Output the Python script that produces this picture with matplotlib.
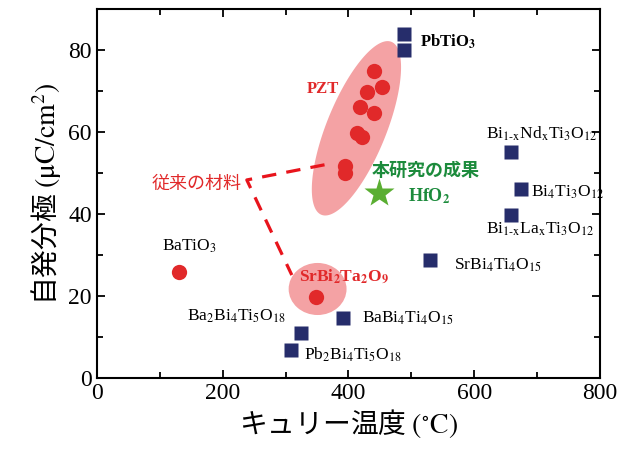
import matplotlib
matplotlib.use('Agg')
import matplotlib.pyplot as plt
from matplotlib.patches import Ellipse, Polygon
import numpy as np

plt.rcParams['font.family'] = ['Liberation Serif', 'DejaVu Serif']
plt.rcParams['mathtext.fontset'] = 'stix'

# PZT (red circles)
pzt_tc = [440, 454, 429, 419, 440, 413, 421, 394, 395]
pzt_ps = [74.9, 71.0, 69.8, 66.0, 64.6, 59.8, 58.8, 51.7, 50.0]

# other red circles
red_names = ['BaTiO3', 'SrBi2Ta2O9']
red_tc = [130, 349]
red_ps = [25.9, 19.8]

# navy squares
sq_names = ['PbTiO3', 'PbTiO3', 'BiNd', 'Bi4Ti3O12', 'BiLa', 'SrBi4Ti4O15',
            'BaBi4Ti4O15', 'Ba2Bi4Ti5O18', 'Pb2Bi4Ti5O18']
sq_tc = [489, 489, 659, 675, 659, 529, 392, 324, 309]
sq_ps = [84.0, 80.0, 55.0, 46.0, 39.8, 28.8, 14.6, 11.0, 6.8]

# HfO2 (this work)
hf_tc = [449]
hf_ps = [45.2]

red = '#e1292a'
pink = '#f4a2a4'
navy = '#262d6b'
green_star = '#5aae32'
green_txt = '#1c8b3c'

fig = plt.figure(figsize=(6.2, 4.51), dpi=100)
ax = fig.add_axes([0.156, 0.162, 0.812, 0.818])

# PZT ellipse (tilted) built from centre and two semi-axis vectors
t = np.linspace(0, 2 * np.pi, 200)
c = np.array([412.7, 60.9])
va = np.array([55.6, 21.1])
vb = np.array([44.0, -2.7])
pts = c + np.outer(np.cos(t), va) + np.outer(np.sin(t), vb)
ax.add_patch(Polygon(pts, closed=True, facecolor=pink, edgecolor='none', zorder=1))
# SrBi2Ta2O9 circle
ax.add_patch(Ellipse((351, 21.7), 92, 12.7, facecolor=pink, edgecolor='none', zorder=1))

# dashed pointer lines
ax.plot([362, 238.5, 310], [52, 48.3, 25.1], color='#e8141c', lw=2.3,
        dashes=(4.5, 3.2), solid_capstyle='butt', zorder=2)

ax.plot(pzt_tc, pzt_ps, 'o', color=red, ms=11, mec='none', zorder=3)
ax.plot(red_tc, red_ps, 'o', color=red, ms=11, mec='none', zorder=3)
ax.plot(sq_tc, sq_ps, 's', color=navy, ms=9.5, mec='none', zorder=3)
ax.plot(hf_tc, hf_ps, '*', color=green_star, ms=22, mec='none', zorder=3)

fs = 12.5
ax.text(333, 70.5, 'PZT', color=red, fontsize=12, fontweight='bold', va='center')
ax.text(159, 47.4, '従来の材料', color=red, fontsize=13, family='Noto Sans CJK JP',
        ha='center', va='center')
ax.text(437, 50.6, '本研究の成果', color=green_txt, fontsize=13, family='Noto Sans CJK JP',
        fontweight='bold', va='center')
ax.text(494, 44.3, r'HfO$_\mathbf{2}$', color=green_txt, fontsize=13, fontweight='bold', va='center')
ax.text(514, 82.0, r'PbTiO$_\mathbf{3}$', color='black', fontsize=12, fontweight='bold', va='center')
ax.text(619, 59.6, r'Bi$_{\text{1-x}}$Nd$_\text{x}$Ti$_3$O$_{12}$', fontsize=fs, va='center')
ax.text(690, 45.4, r'Bi$_4$Ti$_3$O$_{12}$', fontsize=fs, va='center')
ax.text(619, 36.2, r'Bi$_{\text{1-x}}$La$_\text{x}$Ti$_3$O$_{12}$', fontsize=fs, va='center')
ax.text(568, 27.4, r'SrBi$_4$Ti$_4$O$_{15}$', fontsize=fs, va='center')
ax.text(103, 32.0, r'BaTiO$_3$', fontsize=fs, va='center')
ax.text(322, 24.7, r'SrBi$_\mathbf{2}$Ta$_\mathbf{2}$O$_\mathbf{9}$', color=red, fontsize=12.5,
        fontweight='bold', va='center')
ax.text(143, 15.0, r'Ba$_2$Bi$_4$Ti$_5$O$_{18}$', fontsize=fs, va='center')
ax.text(421, 14.5, r'BaBi$_4$Ti$_4$O$_{15}$', fontsize=fs, va='center')
ax.text(330, 5.7, r'Pb$_2$Bi$_4$Ti$_5$O$_{18}$', fontsize=fs, va='center')

ax.set_xlim(0, 800)
ax.set_ylim(0, 90)
ax.set_xticks([0, 200, 400, 600, 800])
ax.set_xticks([100, 300, 500, 700], minor=True)
ax.set_yticks([0, 20, 40, 60, 80])
ax.set_yticks([10, 30, 50, 70], minor=True)
ax.tick_params(which='both', direction='in', top=True, right=True, labelsize=17, width=1.3)
ax.tick_params(which='major', length=6)
ax.tick_params(which='minor', length=4)
for s in ax.spines.values():
    s.set_linewidth(1.5)

ax.set_xlabel(r'キュリー温度 $(^{\circ}\mathrm{C})$', family='Noto Sans CJK JP', fontsize=20, labelpad=2)
ax.set_ylabel(r'自発分極 $(\mathrm{μC/cm}^2)$', family='Noto Sans CJK JP', fontsize=20, labelpad=4)

fig.savefig('out.png', dpi=100)
